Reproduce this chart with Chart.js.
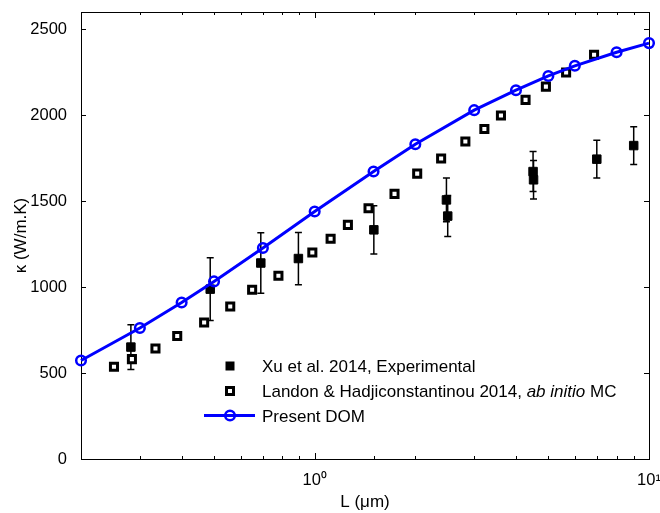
<!DOCTYPE html>
<html>
<head>
<meta charset="utf-8">
<title>Thermal conductivity vs length</title>
<script src="https://cdn.jsdelivr.net/npm/chart.js@4.4.1/dist/chart.umd.min.js"></script>
<style>
  html, body { margin: 0; padding: 0; background: #fff; }
  #wrap { width: 660px; height: 513px; position: relative; }
</style>
</head>
<body>
<div id="wrap"><canvas id="chart"></canvas></div>
<script>
// Present DOM (blue line with open circles)
const domL = [0.2, 0.3, 0.4, 0.5, 0.7, 1, 1.5, 2, 3, 4, 5, 6, 8, 10];
const domK = [573, 762, 910, 1033, 1227, 1440, 1672, 1831, 2029, 2145, 2228, 2287, 2366, 2419];

// Landon & Hadjiconstantinou 2014, ab initio MC (open squares)
const mcL = [0.251, 0.284, 0.334, 0.388, 0.467, 0.559, 0.650, 0.779, 0.984, 1.116, 1.257,
             1.449, 1.733, 2.026, 2.389, 2.823, 3.218, 3.607, 4.273, 4.916, 5.65, 6.85];
const mcK = [537, 581, 643, 715, 794, 887, 984, 1066, 1201, 1281, 1362,
             1459, 1542, 1660, 1748, 1847, 1919, 1998, 2089, 2166, 2248, 2351];

// Xu et al. 2014, Experimental (filled squares with error bars)
const xuL   = [0.282, 0.487, 0.690, 0.894, 1.503, 2.478, 2.50, 4.50, 4.515, 6.98, 9.0];
const xuK   = [651, 988, 1140, 1166, 1333, 1507, 1413, 1672, 1624, 1744, 1823];
const xuErr = [130, 182, 176, 152, 140, 127, 119, 116, 112, 110, 110];

// axis ticks
const yTicks = [0, 500, 1000, 1500, 2000, 2500];
const xTickLabels = { 1: '10\u2070', 10: '10\u00b9' };

const FONT = '"Liberation Sans", Arial, Helvetica, sans-serif';

function toPoints(xs, ys) {
    return xs.map((x, i) => ({ x: x, y: ys[i] }));
}

function isDecade(v) {
    const l = Math.log10(v);
    return Math.abs(l - Math.round(l)) < 1e-9;
}

// MATLAB-like box with inward ticks on all four sides
const boxTicks = {
    id: 'boxTicks',
    beforeDatasetsDraw(chart) {
        const { ctx, chartArea: a, scales: { x, y } } = chart;
        ctx.save();
        ctx.strokeStyle = '#000';
        ctx.lineWidth = 1;
        ctx.beginPath();
        yTicks.forEach(v => {
            const py = Math.round(y.getPixelForValue(v)) + 0.5;
            ctx.moveTo(a.left, py); ctx.lineTo(a.left + 5, py);
            ctx.moveTo(a.right, py); ctx.lineTo(a.right - 5, py);
        });
        x.ticks.forEach(t => {
            const px = Math.round(x.getPixelForValue(t.value)) + 0.5;
            const len = isDecade(t.value) ? 6 : 3;
            ctx.moveTo(px, a.bottom); ctx.lineTo(px, a.bottom - len);
            ctx.moveTo(px, a.top); ctx.lineTo(px, a.top + len);
        });
        ctx.stroke();
        ctx.strokeRect(Math.round(a.left) + 0.5, Math.round(a.top) + 0.5,
                       Math.round(a.right - a.left), Math.round(a.bottom - a.top));
        ctx.restore();
    }
};

// error bars for the experimental points
const errorBars = {
    id: 'errorBars',
    beforeDatasetsDraw(chart) {
        const { ctx, scales: { x, y } } = chart;
        ctx.save();
        ctx.strokeStyle = '#000';
        ctx.lineWidth = 1.5;
        ctx.beginPath();
        xuL.forEach((L, i) => {
            const px = x.getPixelForValue(L);
            const top = y.getPixelForValue(xuK[i] + xuErr[i]);
            const bot = y.getPixelForValue(xuK[i] - xuErr[i]);
            ctx.moveTo(px, top); ctx.lineTo(px, bot);
            ctx.moveTo(px - 3.5, top); ctx.lineTo(px + 3.5, top);
            ctx.moveTo(px - 3.5, bot); ctx.lineTo(px + 3.5, bot);
        });
        ctx.stroke();
        ctx.restore();
    }
};

// legend inside the plot, with italic "ab initio"
const insideLegend = {
    id: 'insideLegend',
    afterDraw(chart) {
        const ctx = chart.ctx;
        const sx = 230, tx = 262;
        const rows = [366, 391, 415.5];
        ctx.save();
        ctx.textBaseline = 'alphabetic';
        ctx.fillStyle = '#000';

        // Xu et al.
        ctx.fillRect(sx - 4.5, rows[0] - 4.5, 9, 9);
        ctx.font = '17px ' + FONT;
        ctx.fillText('Xu et al. 2014, Experimental', tx, rows[0] + 6);

        // Landon & Hadjiconstantinou
        ctx.fillStyle = '#fff';
        ctx.fillRect(sx - 3.5, rows[1] - 3.5, 7, 7);
        ctx.strokeStyle = '#000';
        ctx.lineWidth = 3;
        ctx.strokeRect(sx - 3.5, rows[1] - 3.5, 7, 7);
        ctx.fillStyle = '#000';
        let cx = tx;
        const part1 = 'Landon & Hadjiconstantinou 2014, ';
        ctx.font = '17px ' + FONT;
        ctx.fillText(part1, cx, rows[1] + 6);
        cx += ctx.measureText(part1).width;
        ctx.font = 'italic 17px ' + FONT;
        ctx.fillText('ab initio', cx, rows[1] + 6);
        cx += ctx.measureText('ab initio').width;
        ctx.font = '17px ' + FONT;
        ctx.fillText(' MC', cx, rows[1] + 6);

        // Present DOM
        ctx.strokeStyle = '#0000ff';
        ctx.lineWidth = 3;
        ctx.beginPath();
        ctx.moveTo(204, rows[2]); ctx.lineTo(255, rows[2]);
        ctx.stroke();
        ctx.lineWidth = 2.5;
        ctx.beginPath();
        ctx.arc(sx, rows[2], 4.8, 0, Math.PI * 2);
        ctx.stroke();
        ctx.fillStyle = '#000';
        ctx.font = '17px ' + FONT;
        ctx.fillText('Present DOM', tx, rows[2] + 6);
        ctx.restore();
    }
};

const ctx = document.getElementById('chart').getContext('2d');
new Chart(ctx, {
    type: 'scatter',
    data: {
        datasets: [
            {
                label: 'Present DOM',
                data: toPoints(domL, domK),
                showLine: true,
                borderColor: '#0000ff',
                borderWidth: 3,
                pointStyle: 'circle',
                pointRadius: 4.8,
                pointBorderWidth: 2.5,
                pointBackgroundColor: 'rgba(0,0,0,0)',
                pointBorderColor: '#0000ff',
                clip: false,
                order: 1
            },
            {
                label: 'Landon & Hadjiconstantinou 2014, ab initio MC',
                data: toPoints(mcL, mcK),
                pointStyle: 'rect',
                pointRadius: 5,
                pointBorderWidth: 3,
                pointBackgroundColor: '#fff',
                pointBorderColor: '#000',
                clip: false,
                order: 2
            },
            {
                label: 'Xu et al. 2014, Experimental',
                data: toPoints(xuL, xuK),
                pointStyle: 'rect',
                pointRadius: 6,
                pointBorderWidth: 1,
                pointBackgroundColor: '#000',
                pointBorderColor: '#000',
                clip: false,
                order: 3
            }
        ]
    },
    options: {
        responsive: true,
        maintainAspectRatio: false,
        animation: false,
        events: [],
        layout: { padding: { top: 12, right: 11, left: 0, bottom: 0 } },
        plugins: {
            legend: { display: false },
            tooltip: { enabled: false }
        },
        scales: {
            x: {
                type: 'logarithmic',
                min: 0.2,
                max: 10,
                afterFit: s => {
                    s.height = 54;
                    s.paddingLeft = 0;
                    s.paddingRight = 0;
                },
                grid: { display: false },
                border: { display: false },
                ticks: {
                    autoSkip: false,
                    maxRotation: 0,
                    padding: 4,
                    color: '#000',
                    font: { family: FONT, size: 16.5 },
                    callback: v => xTickLabels[Math.round(v * 1000) / 1000] || ''
                },
                title: {
                    display: true,
                    text: 'L (\u03bcm)',
                    color: '#000',
                    font: { family: FONT, size: 17 },
                    padding: { top: 0, bottom: 0 }
                }
            },
            y: {
                min: 0,
                max: 2600,
                afterFit: s => {
                    s.width = 81;
                    s.paddingTop = 0;
                    s.paddingBottom = 0;
                },
                afterBuildTicks: s => { s.ticks = yTicks.map(v => ({ value: v })); },
                grid: { display: false },
                border: { display: false },
                ticks: {
                    autoSkip: false,
                    padding: 6,
                    color: '#000',
                    font: { family: FONT, size: 16.5 },
                    callback: v => String(v)
                },
                title: {
                    display: true,
                    text: '\u03ba (W/m.K)',
                    color: '#000',
                    font: { family: FONT, size: 17 },
                    padding: { top: 11, bottom: 0 }
                }
            }
        }
    },
    plugins: [boxTicks, errorBars, insideLegend]
});
</script>
</body>
</html>
